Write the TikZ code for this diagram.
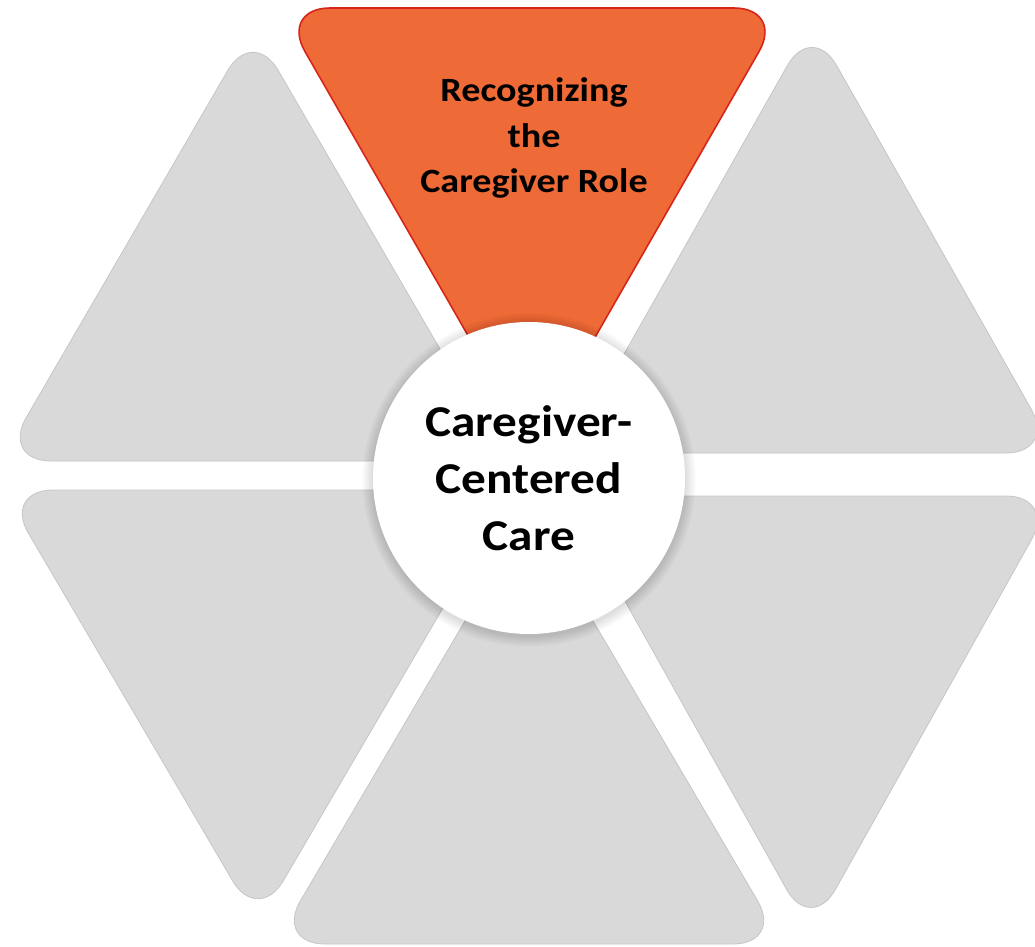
\documentclass[tikz,border=0pt]{standalone}
\usepackage{fontspec}
\setmainfont{Carlito}
% slightly widened face for the captions
\newfontfamily\capfont{Carlito}[FakeStretch=1.12]
\definecolor{segGray}{RGB}{217,217,217}
\definecolor{segEdge}{RGB}{198,198,198}
\definecolor{hiOrange}{RGB}{238,106,54}
\definecolor{hiRed}{RGB}{214,38,26}
\begin{document}
\begin{tikzpicture}[x=1pt,y=-1pt,
  greyseg/.style={fill=segGray, draw=segEdge, line width=0.8pt, rounded corners=50pt},
  orangeseg/.style={fill=hiOrange, draw=hiRed, line width=1.6pt, rounded corners=50pt},
  hubdisc/.style={circle, fill=white, minimum size=312pt, inner sep=0pt, align=center,
    font=\capfont\bfseries\fontsize{44}{57}\selectfont},
  segcaption/.style={align=center, inner sep=0pt, font=\capfont\bfseries\fontsize{34}{45.5}\selectfont}]
\useasboundingbox (0,0) rectangle (1035,946);
% highlighted top segment
\path[orangeseg] (280,8) -- (784,8) -- (532,447) -- cycle;
% grey segments around the hub
\path[greyseg] (253,27) -- (505,461) -- (1,461) -- cycle;
\path[greyseg] (812,22) -- (1056,453) -- (568,453) -- cycle;
\path[greyseg] (3,490) -- (512,490) -- (258,924) -- cycle;
\path[greyseg] (566,496) -- (1056,496) -- (811,933) -- cycle;
\path[greyseg] (529,512) -- (783,944) -- (275,944) -- cycle;
% soft shadow under the hub
\foreach \r in {157,...,167}
  \fill[black, opacity=0.012] (529,480) circle [radius=\r pt];
% hub and captions
\node[hubdisc] (hub) at (529,478) {Caregiver-\\Centered\\Care};
\node[segcaption] (role) at (534,138) {Recognizing\\the\\Caregiver Role};
\end{tikzpicture}
\end{document}
